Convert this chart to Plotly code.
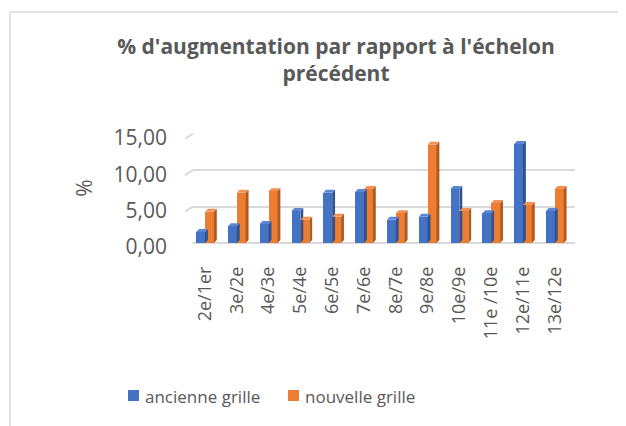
import plotly.graph_objects as go

categories = ["2e/1er", "3e/2e", "4e/3e", "5e/4e", "6e/5e", "7e/6e", "8e/7e",
              "9e/8e", "10e/9e", "11e /10e", "12e/11e", "13e/12e"]
ancienne = [1.5, 2.3, 2.6, 4.4, 6.9, 7.0, 3.2, 3.6, 7.4, 4.1, 13.6, 4.4]
nouvelle = [4.3, 6.9, 7.1, 3.2, 3.6, 7.4, 4.1, 13.5, 4.4, 5.5, 5.2, 7.4]
series_names = ["ancienne grille", "nouvelle grille"]
y_ticks = [0, 5, 10, 15]

# page body has an 8px default margin: work in screen coords, subtract offset
OFF = 8
W, H = 626 - OFF, 426 - OFF
PL, PR, PT, PB = 193, 575, 133, 243   # plot area in screen px
L = PL - OFF
T = PT - OFF
R = W - (PR - OFF)
B = H - (PB - OFF)
pw, ph = W - L - R, H - T - B
FONT = "Open Sans"
GREY = "#595959"
GRID = "#d9d9d9"

CAT_PX = 31.8          # pixels per category
FIRST_C = 205          # screen x of first category centre
YMAX = 15.1
UNIT = ph / YMAX


def px(x):  # screen x -> paper
    return (x - OFF - L) / pw


def py(y):  # screen y -> paper
    return (H - B - (y - OFF)) / ph


front = ["#4472c4", "#ed7d31"]
side = ["#2f528f", "#ae5a21"]
top = ["#5b86d4", "#f29155"]

bw = 0.28
dx, dy = 0.09, 3 / UNIT
idx = list(range(len(categories)))

fig = go.Figure()
shapes = []

# skewed left part of the 3D gridlines
for v in y_ticks:
    shapes.append(dict(type="line", xref="paper", yref="y", layer="below",
                       x0=px(185), x1=px(PL), y0=v - 5 / UNIT, y1=v,
                       line=dict(color=GRID, width=2)))

for s, (vals, off) in enumerate([(ancienne, -0.14), (nouvelle, 0.14)]):
    xs = [i + off for i in idx]
    fig.add_trace(go.Bar(
        x=xs, y=vals, width=bw, name=series_names[s],
        marker=dict(color=front[s], line=dict(width=0)),
        showlegend=False,
    ))
    for x, v in zip(xs, vals):
        xr = x + bw / 2
        xl = x - bw / 2
        shapes.append(dict(
            type="path", xref="x", yref="y", layer="above",
            path=f"M {xr} 0 L {xr+dx} {dy} L {xr+dx} {v+dy} L {xr} {v} Z",
            fillcolor=side[s], line=dict(width=0)))
        shapes.append(dict(
            type="path", xref="x", yref="y", layer="above",
            path=f"M {xl} {v} L {xl+dx} {v+dy} L {xr+dx} {v+dy} L {xr} {v} Z",
            fillcolor=top[s], line=dict(width=0)))

# outer chart border
shapes.append(dict(type="rect", xref="paper", yref="paper", layer="below",
                   x0=px(10), x1=px(660), y0=py(460), y1=py(12),
                   line=dict(color=GRID, width=1.5), fillcolor="rgba(0,0,0,0)"))

# custom legend
annotations = []
legend_sq_x = [128, 288]
legend_txt_x = [143, 303]
for s in range(2):
    shapes.append(dict(type="rect", xref="paper", yref="paper", layer="above",
                       x0=px(legend_sq_x[s]), x1=px(legend_sq_x[s] + 11),
                       y0=py(401), y1=py(390),
                       fillcolor=front[s], line=dict(width=0)))
    annotations.append(dict(
        text=series_names[s], xref="paper", yref="paper",
        x=px(legend_txt_x[s]), y=py(396), xanchor="left", yanchor="middle",
        showarrow=False, font=dict(family=FONT, size=17, color=GREY)))

fig.update_layout(
    width=W, height=H,
    margin=dict(l=L, r=R, t=T, b=B, pad=0),
    paper_bgcolor="white", plot_bgcolor="white",
    separators=",.",
    barmode="overlay",
    bargap=0,
    shapes=shapes,
    annotations=annotations,
    showlegend=False,
    font=dict(family=FONT, color=GREY),
    title=dict(
        text="% d'augmentation par rapport à l'échelon<br>précédent",
        font=dict(family=FONT, size=21, color=GREY, weight="bold"),
        x=(336 - OFF) / W, xref="container", xanchor="center",
        y=1 - 46 / H, yref="container", yanchor="top",
    ),
    xaxis=dict(
        range=[-(FIRST_C - PL) / CAT_PX, (PR - FIRST_C) / CAT_PX],
        tickmode="array", tickvals=idx, ticktext=categories,
        tickangle=-90, showgrid=False, zeroline=False, showline=False,
        ticks="", ticklabelstandoff=19,
        tickfont=dict(family=FONT, size=18, color=GREY),
        fixedrange=True,
    ),
    yaxis=dict(
        range=[0, YMAX], tickvals=y_ticks, tickformat=".2f",
        showgrid=True, gridcolor=GRID, gridwidth=2,
        zeroline=True, zerolinecolor=GRID, zerolinewidth=2,
        showline=False, ticks="", ticklabelstandoff=25, ticklabelshift=4,
        tickfont=dict(family=FONT, size=21, color=GREY),
        title=dict(text="%", font=dict(family=FONT, size=21, color=GREY), standoff=15),
        fixedrange=True,
    ),
)

fig.write_html("out.html")
